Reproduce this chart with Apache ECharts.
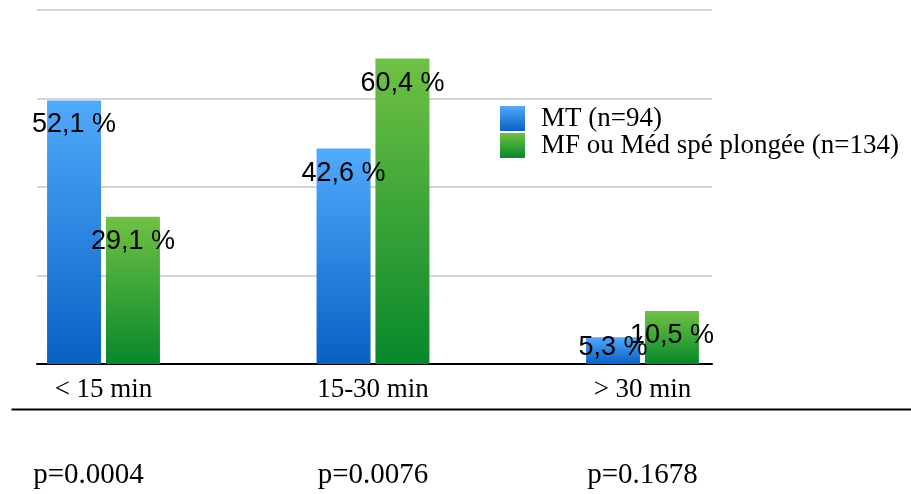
<!DOCTYPE html>
<html>
<head>
<meta charset="utf-8">
<script src="https://cdn.jsdelivr.net/npm/echarts@6/dist/echarts.min.js"></script>
<style>
html,body{margin:0;padding:0;background:#fff;}
#c{width:911px;height:494px;}
</style>
</head>
<body>
<div id="c"></div>
<script>
var categories = ['< 15 min', '15-30 min', '> 30 min'];
var pValues = ['p=0.0004', 'p=0.0076', 'p=0.1678'];
var seriesNames = ['MT (n=94)', 'MF ou Méd spé plongée (n=134)'];
var mtValues = [52.1, 42.6, 5.3];
var mfValues = [29.1, 60.4, 10.5];

function grad(top, bottom) {
  return new echarts.graphic.LinearGradient(0, 0, 0, 1, [
    {offset: 0, color: top}, {offset: 1, color: bottom}
  ]);
}
function fmt(p) { return String(p.value).replace('.', ',') + ' %'; }

var SERIF = 'Liberation Serif, Times New Roman, serif';
var labelStyle = {
  show: true, position: 'insideTop', distance: 11,
  fontFamily: 'Liberation Sans, Arial, sans-serif', fontSize: 27, color: '#000',
  formatter: fmt
};

function items(vals) {
  return vals.map(function (v) {
    if (v < 8) return {value: v, label: {position: 'top', distance: -24}};
    return v;
  });
}

var chart = echarts.init(document.getElementById('c'));
chart.setOption({
  animation: false,
  backgroundColor: '#fff',
  grid: [
    {left: 37, right: 199, top: 10, bottom: 130},
    {left: 103.5, right: 268.5, top: 10, bottom: 130}
  ],
  xAxis: [
    {gridIndex: 0, type: 'category', data: categories, boundaryGap: true,
      axisLine: {show: true, lineStyle: {color: '#000', width: 2}},
      axisTick: {show: false}, axisLabel: {show: false}},
    {gridIndex: 1, type: 'category', data: categories, boundaryGap: false,
      axisLine: {show: false}, axisTick: {show: false},
      axisLabel: {show: true, margin: 12, color: '#000', fontFamily: SERIF, fontSize: 27}},
    {gridIndex: 1, type: 'category', data: pValues, boundaryGap: false, position: 'bottom', offset: 86,
      axisLine: {show: false}, axisTick: {show: false},
      axisLabel: {show: true, margin: 11, color: '#000', fontFamily: SERIF, fontSize: 29,
        formatter: function (v, i) { return i === 0 ? '{s|' + v + '}' : v; },
        rich: {s: {padding: [0, 30, 0, 0], color: '#000', fontFamily: SERIF, fontSize: 29}}}}
  ],
  yAxis: [
    {gridIndex: 0, type: 'value', min: 0, max: 70, interval: 17.5,
      axisLine: {show: false}, axisTick: {show: false}, axisLabel: {show: false},
      splitLine: {show: true, lineStyle: {color: '#d4d4d4', width: 2}}},
    {gridIndex: 1, type: 'value', min: 0, max: 70, interval: 17.5,
      axisLine: {show: false}, axisTick: {show: false}, axisLabel: {show: false},
      splitLine: {show: false}}
  ],
  legend: {
    orient: 'vertical', left: 495, top: 100, itemWidth: 25, itemHeight: 25, itemGap: 0,
    icon: 'rect',
    textStyle: {color: '#000', fontFamily: SERIF, fontSize: 27, padding: [0, 0, 0, 11]},
    data: seriesNames
  },
  graphic: [
    {type: 'line', left: 9, top: 407, shape: {x1: 0, y1: 0, x2: 902, y2: 0}, style: {stroke: '#000', lineWidth: 2}}
  ],
  series: [
    {name: seriesNames[0], type: 'bar', xAxisIndex: 1, yAxisIndex: 1, barWidth: 54, barGap: '9%',
      itemStyle: {color: grad('#51aafc', '#0860c4')}, label: labelStyle, data: items(mtValues)},
    {name: seriesNames[1], type: 'bar', xAxisIndex: 1, yAxisIndex: 1, barWidth: 54, barGap: '9%',
      itemStyle: {color: grad('#70c144', '#07882b')}, label: labelStyle, data: items(mfValues)}
  ]
});
</script>
</body>
</html>
